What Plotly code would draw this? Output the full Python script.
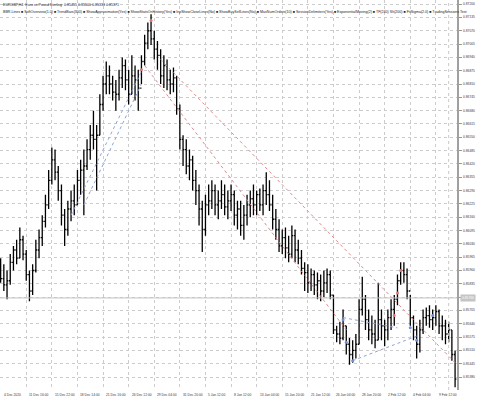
import plotly.graph_objects as go

# ---- data (EURGBP H4) ----
HIGH = [0.8596,0.8593,0.8590,0.8598,0.8602,0.8605,0.8611,0.8607,0.8600,0.8590,
        0.8593,0.8605,0.8610,0.8617,0.8627,0.8639,0.8650,0.8649,0.8641,0.8632,
        0.8620,0.8624,0.8629,0.8632,0.8639,0.8644,0.8649,0.8654,0.8661,0.8668,
        0.8661,0.8676,0.8685,0.8692,0.8690,0.8685,0.8683,0.8688,0.8694,0.8693,
        0.8688,0.8695,0.8690,0.8688,0.8695,0.8705,0.8711,0.8715,0.8707,0.8702,
        0.8698,0.8695,0.8693,0.8688,0.8689,0.8685,0.8671,0.8656,0.8654,0.8649,
        0.8646,0.8639,0.8632,0.8624,0.8627,0.8632,0.8634,0.8632,0.8629,0.8634,
        0.8632,0.8629,0.8632,0.8629,0.8624,0.8624,0.8622,0.8627,0.8629,0.8632,
        0.8629,0.8630,0.8632,0.8638,0.8634,0.8627,0.8620,0.8615,0.8610,0.8611,
        0.8607,0.8612,0.8610,0.8605,0.8600,0.8594,0.8593,0.8591,0.8590,0.8589,
        0.8588,0.8590,0.8591,0.8590,0.8578,0.8563,0.8565,0.8571,0.8563,0.8557,
        0.8556,0.8559,0.8576,0.8587,0.8578,0.8571,0.8568,0.8566,0.8584,0.8571,
        0.8566,0.8571,0.8576,0.8578,0.8588,0.8594,0.8594,0.8591,0.8578,0.8568,
        0.8563,0.8566,0.8571,0.8572,0.8573,0.8571,0.8573,0.8571,0.8568,0.8566,
        0.8565,0.8561,0.8551]
LOW = [0.8584,0.8580,0.8576,0.8583,0.8590,0.8593,0.8596,0.8595,0.8585,0.8575,
       0.8578,0.8589,0.8596,0.8602,0.8611,0.8620,0.8632,0.8634,0.8624,0.8612,
       0.8602,0.8607,0.8614,0.8617,0.8622,0.8627,0.8617,0.8639,0.8644,0.8649,
       0.8629,0.8656,0.8668,0.8676,0.8676,0.8673,0.8668,0.8673,0.8679,0.8678,
       0.8671,0.8676,0.8673,0.8668,0.8681,0.8690,0.8698,0.8700,0.8693,0.8688,
       0.8681,0.8679,0.8678,0.8676,0.8677,0.8666,0.8649,0.8641,0.8637,0.8634,
       0.8629,0.8622,0.8612,0.8599,0.8607,0.8617,0.8620,0.8617,0.8615,0.8620,
       0.8617,0.8615,0.8619,0.8612,0.8610,0.8607,0.8605,0.8612,0.8616,0.8617,
       0.8617,0.8619,0.8617,0.8622,0.8619,0.8610,0.8605,0.8599,0.8598,0.8596,
       0.8594,0.8596,0.8594,0.8593,0.8588,0.8580,0.8579,0.8580,0.8578,0.8576,
       0.8575,0.8577,0.8579,0.8576,0.8559,0.8555,0.8554,0.8556,0.8549,0.8544,
       0.8545,0.8547,0.8554,0.8568,0.8561,0.8556,0.8554,0.8552,0.8556,0.8556,
       0.8553,0.8556,0.8561,0.8563,0.8573,0.8583,0.8584,0.8576,0.8563,0.8556,
       0.8547,0.8550,0.8559,0.8563,0.8562,0.8561,0.8563,0.8559,0.8556,0.8554,
       0.8555,0.8546,0.8533]
CLOSE = [0.8586,0.8583,0.8585,0.8594,0.8600,0.8596,0.8605,0.8598,0.8588,0.8580,
         0.8590,0.8600,0.8606,0.8614,0.8622,0.8634,0.8644,0.8638,0.8629,0.8617,
         0.8610,0.8620,0.8624,0.8622,0.8634,0.8639,0.8641,0.8649,0.8656,0.8654,
         0.8656,0.8671,0.8681,0.8685,0.8681,0.8677,0.8676,0.8684,0.8690,0.8683,
         0.8676,0.8685,0.8683,0.8679,0.8692,0.8701,0.8707,0.8703,0.8698,0.8695,
         0.8685,0.8690,0.8683,0.8681,0.8684,0.8669,0.8654,0.8649,0.8641,0.8644,
         0.8634,0.8629,0.8620,0.8610,0.8622,0.8624,0.8629,0.8622,0.8624,0.8627,
         0.8621,0.8624,0.8627,0.8617,0.8620,0.8612,0.8617,0.8622,0.8625,0.8622,
         0.8627,0.8622,0.8629,0.8627,0.8622,0.8615,0.8610,0.8602,0.8606,0.8601,
         0.8598,0.8607,0.8600,0.8596,0.8591,0.8589,0.8584,0.8588,0.8583,0.8585,
         0.8580,0.8584,0.8588,0.8578,0.8561,0.8559,0.8557,0.8563,0.8554,0.8549,
         0.8551,0.8554,0.8571,0.8576,0.8566,0.8561,0.8559,0.8556,0.8566,0.8563,
         0.8561,0.8567,0.8571,0.8576,0.8585,0.8590,0.8588,0.8580,0.8567,0.8561,
         0.8554,0.8561,0.8567,0.8568,0.8566,0.8567,0.8570,0.8563,0.8563,0.8559,
         0.8561,0.8549,0.8537]
OPEN = [CLOSE[0]] + CLOSE[:-1]
BARS = list(range(len(CLOSE)))

TIME_TICK_BARS = [0, 8, 16, 24, 32, 40, 48, 56, 64, 72, 80, 88, 96, 104, 112, 120, 128, 136]
TIME_TICK_LABELS = ["4 Dec 2020", "11 Dec 16:00", "15 Dec 22:00", "18 Dec 14:00", "21 Dec 16:00",
                    "26 Dec 12:00", "29 Dec 04:00", "31 Dec 20:00", "5 Jan 12:00", "8 Jan 12:00",
                    "13 Jan 04:00", "15 Jan 20:00", "21 Jan 12:00", "26 Jan 04:00", "28 Jan 20:00",
                    "2 Feb 12:00", "4 Feb 04:00", "9 Feb 12:00"]
PRICE_TICKS = [0.87200, 0.87135, 0.87070, 0.87005, 0.86940, 0.86875, 0.86810, 0.86745,
               0.86680, 0.86615, 0.86550, 0.86485, 0.86420, 0.86355, 0.86290, 0.86225,
               0.86160, 0.86095, 0.86030, 0.85965, 0.85900, 0.85835, 0.85770, 0.85705,
               0.85640, 0.85575, 0.85510, 0.85445, 0.85380]
HLINE_PRICE = 0.85766

# indicator dotted lines (bar, price)
RED_LINES = [([45, 108], [0.8690, 0.8561]), ([50, 142], [0.8693, 0.8545])]
BLUE_LINES = [([22, 44], [0.8617, 0.8687]), ([26, 44], [0.8622, 0.8681]),
              ([107, 124], [0.8567, 0.8562]), ([110, 130], [0.8546, 0.8558])]
RED_DOTS_X = [44, 47, 123, 124, 125]
RED_DOTS_Y = [0.8688, 0.8712, 0.8568, 0.8579, 0.8590]
BLUE_DOTS_X = [107, 108, 110, 128, 130, 135]
BLUE_DOTS_Y = [0.8566, 0.8555, 0.8546, 0.8562, 0.8556, 0.8568]

HEADER1 = "EURGBP,H4  Euro vs Pound Sterling  0.85455 0.85500 0.85333 0.85371"
HEADER2 = ("BBR.Lines \u25a0 SoftOverview(1.0) \u25a0 TrendBars(300) \u25a0 ShowApproximation(Yes) \u25a0 "
           "ShowStatsOnHistory(Yes) \u25a0 InpShowCloseLines(No) \u25a0 ShowBuySellLines(No) \u25a0 "
           "MaxNumOrders(10) \u25a0 SessionDelimiters(Yes) \u25a0 ExponentialMoving(2) \u25a0 "
           "TF(240) Sh(200) \u25a0 FitSigma(2.0) \u25a0 TradingSessions Test")

FONT = "Liberation Sans"
TXT = "#3a3a3a"
LBL = 3.3

fig = go.Figure()

fig.add_hline(y=HLINE_PRICE, line=dict(color="#c4c4c4", width=1))

for xs, ys in RED_LINES:
    fig.add_trace(go.Scatter(x=xs, y=ys, mode="lines",
                             line=dict(color="#e08a8a", width=1, dash="dot"), hoverinfo="skip"))
for xs, ys in BLUE_LINES:
    fig.add_trace(go.Scatter(x=xs, y=ys, mode="lines",
                             line=dict(color="#8fa3d6", width=1, dash="dot"), hoverinfo="skip"))

fig.add_trace(go.Ohlc(x=BARS, open=OPEN, high=HIGH, low=LOW, close=CLOSE,
                      increasing=dict(line=dict(color="black", width=1.3)),
                      decreasing=dict(line=dict(color="black", width=1.3)),
                      tickwidth=0.4, hoverinfo="skip"))

fig.add_trace(go.Scatter(x=RED_DOTS_X, y=RED_DOTS_Y, mode="markers",
                         marker=dict(color="#e07a7a", size=3), hoverinfo="skip"))
fig.add_trace(go.Scatter(x=BLUE_DOTS_X, y=BLUE_DOTS_Y, mode="markers",
                         marker=dict(color="#6f8fd8", size=3), hoverinfo="skip"))

fig.add_vline(x=140, line=dict(color="#c8c8c8", width=1, dash="dot"))

fig.update_layout(
    width=480, height=400,
    margin=dict(l=0, r=23, t=0, b=10),
    paper_bgcolor="white", plot_bgcolor="white",
    showlegend=False,
    font=dict(family=FONT, size=4, color=TXT),
    xaxis=dict(range=[-0.2, 142.6], tickvals=TIME_TICK_BARS, showticklabels=False,
               ticks="", showgrid=True, gridcolor="#cccccc", griddash="dot", gridwidth=1,
               zeroline=False, showline=False, rangeslider=dict(visible=False)),
    yaxis=dict(range=[0.853168, 0.8722], side="right", tickvals=PRICE_TICKS,
               showticklabels=False, ticks="outside", ticklen=3, tickcolor="#999999",
               showgrid=True, gridcolor="#cccccc", griddash="dot", gridwidth=1,
               zeroline=False, showline=True, linecolor="#a0a0a0", linewidth=2),
)

# price labels on the right axis
for p in PRICE_TICKS:
    if abs(p - HLINE_PRICE) < 0.0002:
        continue
    fig.add_annotation(xref="paper", yref="y", x=1.0, y=p, xanchor="left", yanchor="middle",
                       text=f"{p:.5f}", showarrow=False, xshift=4,
                       font=dict(family=FONT, size=LBL, color=TXT))
fig.add_annotation(xref="paper", yref="y", x=1.0, y=HLINE_PRICE, xanchor="left", yanchor="middle",
                   text=f"{HLINE_PRICE:.5f}", showarrow=False, bgcolor="#c4c4c4",
                   font=dict(family=FONT, size=LBL, color="white"), borderpad=1, xshift=3)

# time labels below the plot
for b, lab in zip(TIME_TICK_BARS, TIME_TICK_LABELS):
    fig.add_annotation(xref="x", yref="paper", x=b, y=0, xanchor="left", yanchor="top",
                       text=lab, showarrow=False, xshift=1, yshift=-1,
                       font=dict(family=FONT, size=LBL, color=TXT))

fig.add_annotation(xref="paper", yref="paper", x=0.003, y=1.0, xanchor="left", yanchor="top",
                   text=HEADER1, showarrow=False, font=dict(family=FONT, size=3.6, color="#222222"),
                   yshift=-1)
fig.add_annotation(xref="paper", yref="paper", x=0.003, y=1.0, xanchor="left", yanchor="top",
                   text=HEADER2, showarrow=False, font=dict(family=FONT, size=3.6, color="#222222"),
                   yshift=-8)

fig.write_html("out.html", config={"displayModeBar": False},
               post_script="document.body.style.margin='0';document.body.style.overflow='hidden';")
